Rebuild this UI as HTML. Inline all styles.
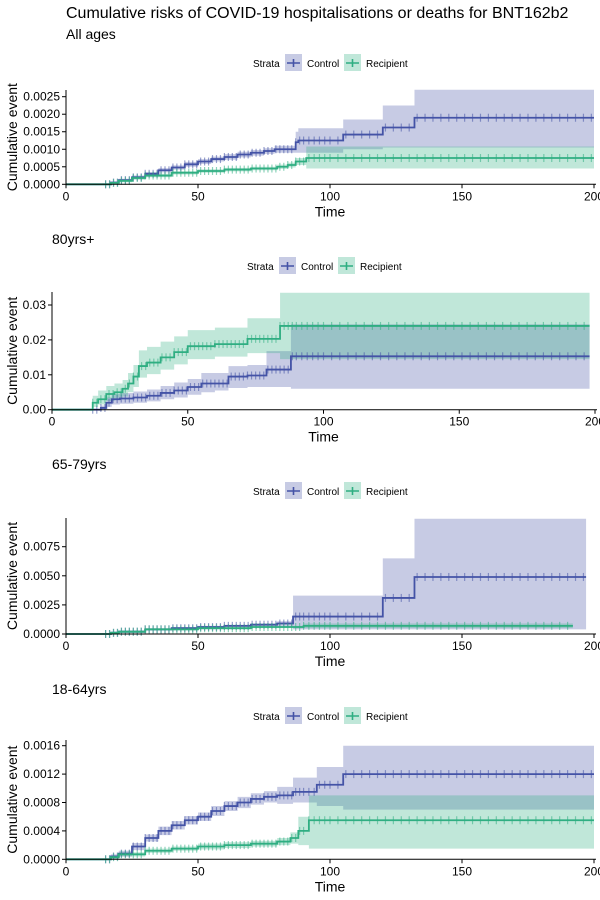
<!DOCTYPE html>
<html><head><meta charset="utf-8"><style>
body{margin:0;background:#fff;}
svg{display:block;font-family:"Liberation Sans",sans-serif;}
</style></head><body>
<svg id="chart" width="600" height="900" viewBox="0 0 600 900">
<text x="66" y="18" font-size="16" fill="#000">Cumulative risks of COVID-19 hospitalisations or deaths for BNT162b2</text>
<text x="66" y="39" font-size="14" fill="#000">All ages</text>
<text x="52" y="244" font-size="14" fill="#000">80yrs+</text>
<text x="52" y="469" font-size="14" fill="#000">65-79yrs</text>
<text x="52" y="694" font-size="14" fill="#000">18-64yrs</text>
</svg>
<script>
// ---- data: panel 1 (All ages)
const p1CtlT=[0,14,17,20,25,30,35,40,45,50,55,60,65,70,75,79,87,88,105,120,132,200];
const p1CtlV=[0,0,.00005,.00012,.0002,.0003,.0004,.00048,.00057,.00065,.00072,.00078,.00085,.0009,.00095,.001,.0012,.00125,.00142,.00162,.0019,.0019];
const p1CtlLo=[0,0,.00002,.00008,.00015,.00025,.00034,.00042,.0005,.00058,.00065,.0007,.00077,.00082,.00087,.0009,.0009,.0009,.001,.00105,.00105,.00105];
const p1CtlHi=[0,0,.00008,.00016,.00025,.00035,.00046,.00054,.00064,.00072,.00079,.00086,.00093,.00098,.00103,.0011,.0015,.0016,.00185,.00225,.0027,.0027];
const p1RecT=[0,15,17,20,25,30,40,50,60,70,80,84,87,91,200];
const p1RecV=[0,0,.00004,.0001,.00018,.00025,.00033,.00038,.00042,.00045,.0005,.00055,.00065,.00075,.00075];
const p1RecLo=[0,0,.00001,.00006,.00013,.0002,.00028,.00033,.00037,.0004,.00044,.00048,.00055,.00045,.00045];
const p1RecHi=[0,0,.00007,.00014,.00023,.0003,.00038,.00043,.00047,.0005,.00056,.00062,.00075,.00108,.00108];
// ---- data: panel 2 (80yrs+)
const p2CtlT=[0,14,18,20,22,25,30,35,40,45,50,55,60,65,72,79,88,198];
const p2CtlV=[0,0,.0005,.002,.003,.0032,.0035,.004,.0048,.0055,.0065,.0075,.0075,.0095,.0098,.0115,.0153,.0153];
const p2CtlLo=[0,0,0,.0008,.0015,.0017,.002,.0024,.003,.0035,.0043,.005,.0055,.0062,.0065,.0065,.006,.006];
const p2CtlHi=[0,0,.0012,.0035,.0045,.0048,.0052,.0058,.0068,.0078,.0088,.0105,.0105,.0125,.0128,.0168,.0245,.0245];
const p2RecT=[0,13,15,17,20,23,26,28,30,32,35,40,45,50,60,72,84,198];
const p2RecV=[0,0,.002,.003,.0045,.005,.006,.0075,.0095,.0125,.0135,.015,.0165,.0182,.0188,.0203,.024,.024];
const p2RecLo=[0,0,.0008,.0015,.0025,.003,.0038,.005,.0065,.0092,.0102,.0115,.013,.0145,.0152,.0162,.0145,.0145];
const p2RecHi=[0,0,.004,.0055,.0068,.0075,.0085,.0105,.0128,.017,.018,.0195,.021,.0228,.0235,.0262,.0335,.0335];
// ---- data: panel 3 (65-79yrs)
const p3CtlT=[0,14,17,20,30,40,50,60,70,80,86,120,132,197];
const p3CtlV=[0,0,.0001,.0002,.0004,.0005,.0006,.0007,.0008,.0009,.0015,.0031,.0049,.0049];
const p3CtlLo=[0,0,0,.0001,.0003,.0004,.0005,.0006,.0007,.0007,.0004,.0004,.0004,.0004];
const p3CtlHi=[0,0,.0002,.0003,.0005,.0006,.0007,.0008,.0009,.0011,.0033,.0065,.0099,.0099];
const p3RecT=[0,14,17,20,30,50,70,90,192];
const p3RecV=[0,0,.0001,.0002,.0004,.0005,.0006,.0007,.0007];
const p3RecLo=[0,0,0,.0001,.0003,.0004,.0005,.0005,.0005];
const p3RecHi=[0,0,.0002,.0003,.0005,.0006,.0007,.0009,.0009];
// ---- data: panel 4 (18-64yrs)
const p4CtlT=[0,14,17,20,25,30,35,40,45,50,55,60,65,70,75,80,86,95,105,200];
const p4CtlV=[0,0,.00004,.00008,.00018,.0003,.0004,.00048,.00055,.0006,.00068,.00075,.0008,.00085,.00088,.0009,.00095,.00105,.0012,.0012];
const p4CtlLo=[0,0,.00001,.00004,.00013,.00025,.00034,.00042,.00049,.00054,.00061,.00068,.00072,.00077,.0008,.00078,.0008,.00075,.0007,.0007];
const p4CtlHi=[0,0,.00007,.00012,.00023,.00035,.00046,.00054,.00061,.00066,.00075,.00082,.00088,.00093,.00096,.00102,.00115,.0013,.0016,.0016];
const p4RecT=[0,15,17,20,30,40,50,60,70,80,85,88,92,200];
const p4RecV=[0,0,.00003,.00007,.00012,.00015,.00018,.0002,.00022,.00025,.0003,.0004,.00055,.00055];
const p4RecLo=[0,0,.00001,.00004,.00009,.00012,.00014,.00016,.00018,.0002,.00022,.0002,.00015,.00015];
const p4RecHi=[0,0,.00005,.0001,.00015,.00018,.00022,.00024,.00026,.0003,.00038,.0006,.0009,.0009];
// ---- tick labels
const xTicks=[0,50,100,150,200];
const p1YTicks=["0.0000","0.0005","0.0010","0.0015","0.0020","0.0025"];
const p2YTicks=["0.00","0.01","0.02","0.03"];
const p3YTicks=["0.0000","0.0025","0.0050","0.0075"];
const p4YTicks=["0.0000","0.0004","0.0008","0.0012","0.0016"];
// censor times (marks)
const censorT=[15,16.5,18,19.5,21,22.5,24,25.5,27,28.5,30,31.5,33,34.5,36,37.5,39,40.5,42,43.5,45,46.5,48,49.5,51,52.5,54,55.5,57,58.5,60,61.5,63,64.5,66,67.5,69,70.5,72,73.5,75,76.5,78,79.5,81,82.5,84,85.5,87,88.5,90,92,94,96,98,100,103,106,109,112,115,118,121,124,127,130,133,136,139,142,145,148,151,154,157,160,163,166,169,172,175,178,181,184,187,190,193,196,199];

const panels=[
 {name:'all-ages',x0:66,x1:594,y0:184.3,top:90,yT:p1YTicks,leg:63,
  ctl:[p1CtlT,p1CtlV,p1CtlLo,p1CtlHi],rec:[p1RecT,p1RecV,p1RecLo,p1RecHi],ymaxScale:.0025,ytop:96.7},
 {name:'80plus',x0:52,x1:595,y0:409.7,top:292,yT:p2YTicks,leg:266,
  ctl:[p2CtlT,p2CtlV,p2CtlLo,p2CtlHi],rec:[p2RecT,p2RecV,p2RecLo,p2RecHi],ymaxScale:.03,ytop:305},
 {name:'65-79',x0:66,x1:594,y0:634,top:518,yT:p3YTicks,leg:491,
  ctl:[p3CtlT,p3CtlV,p3CtlLo,p3CtlHi],rec:[p3RecT,p3RecV,p3RecLo,p3RecHi],ymaxScale:.0075,ytop:546.7},
 {name:'18-64',x0:66,x1:594,y0:859.3,top:740,yT:p4YTicks,leg:716,
  ctl:[p4CtlT,p4CtlV,p4CtlLo,p4CtlHi],rec:[p4RecT,p4RecV,p4RecLo,p4RecHi],ymaxScale:.0016,ytop:745.7}
];
const NS='http://www.w3.org/2000/svg';
const svg=document.getElementById('chart');
const CTL='#4453a6',REC='#2fae82';
function mk(tag,attrs,parent){const e=document.createElementNS(NS,tag);for(const k in attrs)e.setAttribute(k,attrs[k]);(parent||svg).appendChild(e);return e;}
function stepAt(T,V,t){let v=V[0];for(let i=0;i<T.length;i++){if(T[i]<=t)v=V[i];}return v;}
panels.forEach(p=>{
 const g=mk('g',{});
 
 
 const X=t=>p.x0+(p.x1-p.x0)*t/200;
 const Y=v=>p.y0-(p.y0-p.ytop)*v/p.ymaxScale;
 function ribbon(s,col,nm){
  const [T,V,L,H]=s;let up='',lo='';
  for(let i=0;i<T.length;i++){const xa=X(T[i]),xb=X(i<T.length-1?T[i+1]:T[i]);
   up+=`${xa},${Y(H[i])} ${xb},${Y(H[i])} `;lo=`${xb},${Y(L[i])} ${xa},${Y(L[i])} `+lo;}
  const e=mk('polygon',{points:up+lo,fill:col,'fill-opacity':0.3},g);
  
  
 }
 function line(s,col,nm){
  const [T,V]=s;let d=`M${X(T[0])},${Y(V[0])}`;
  for(let i=1;i<T.length;i++){d+=` H${X(T[i])} V${Y(V[i])}`;}
  const e=mk('path',{d:d,fill:'none',stroke:col,'stroke-width':1.8},g);
  
  
  const last=T[T.length-1];
  censorT.forEach(t=>{if(t>last||t<T[1])return;const y=Y(stepAt(T,V,t));
   const c=mk('path',{d:`M${X(t)},${y-4}V${y+4}`,stroke:col,'stroke-width':1.2,'stroke-opacity':0.55},g);
   
   });
 }
 ribbon(p.ctl,CTL,'control');ribbon(p.rec,REC,'recipient');
 line(p.ctl,CTL,'control');line(p.rec,REC,'recipient');
 const ax=mk('path',{d:`M${p.x0},${p.top}V${p.y0}H${p.x1+2}`,stroke:'#000','stroke-width':1,fill:'none'},g);
 
 
 xTicks.forEach(t=>{mk('path',{d:`M${X(t)},${p.y0}v4`,stroke:'#000'},g);
  const tx=mk('text',{x:X(t),y:p.y0+16,'font-size':12,'text-anchor':'middle',fill:'#000'},g);tx.textContent=t;
  
  });
 p.yT.forEach((lab,i)=>{const y=Y(parseFloat(lab));mk('path',{d:`M${p.x0-4},${y}h4`,stroke:'#000'},g);
  const tx=mk('text',{x:p.x0-6,y:y+4,'font-size':12,'text-anchor':'end',fill:'#000'},g);tx.textContent=lab;
  
  });
 const xt=mk('text',{x:(p.x0+p.x1)/2,y:p.y0+32,'font-size':14,'text-anchor':'middle'},g);xt.textContent='Time';
 
 
 const yc=(p.top+p.y0)/2;
 const yt=mk('text',{x:17,y:yc,'font-size':14,'text-anchor':'middle',transform:`rotate(-90 17 ${yc})`},g);yt.textContent='Cumulative event';
 
 
 const lg=mk('g',{},g);
 
 
 const cx=p.name==='80plus'?-6:0, ly=p.leg;
 const st=mk('text',{x:253+cx,y:ly+4,'font-size':10},lg);st.textContent='Strata';
 [[285,CTL,'Control',307],[344,REC,'Recipient',366]].forEach(([bx,col,lab,tx])=>{
  const k=mk('g',{},lg);
  
  
  mk('rect',{x:bx+cx,y:ly-9,width:17,height:17,fill:col,'fill-opacity':0.3},k);
  mk('path',{d:`M${bx+cx+2},${ly}h13M${bx+cx+8.5},${ly-4}v8`,stroke:col,'stroke-width':1.6},k);
  const t=mk('text',{x:tx+cx,y:ly+4,'font-size':10},k);t.textContent=lab;});
});
</script>
</body></html>
